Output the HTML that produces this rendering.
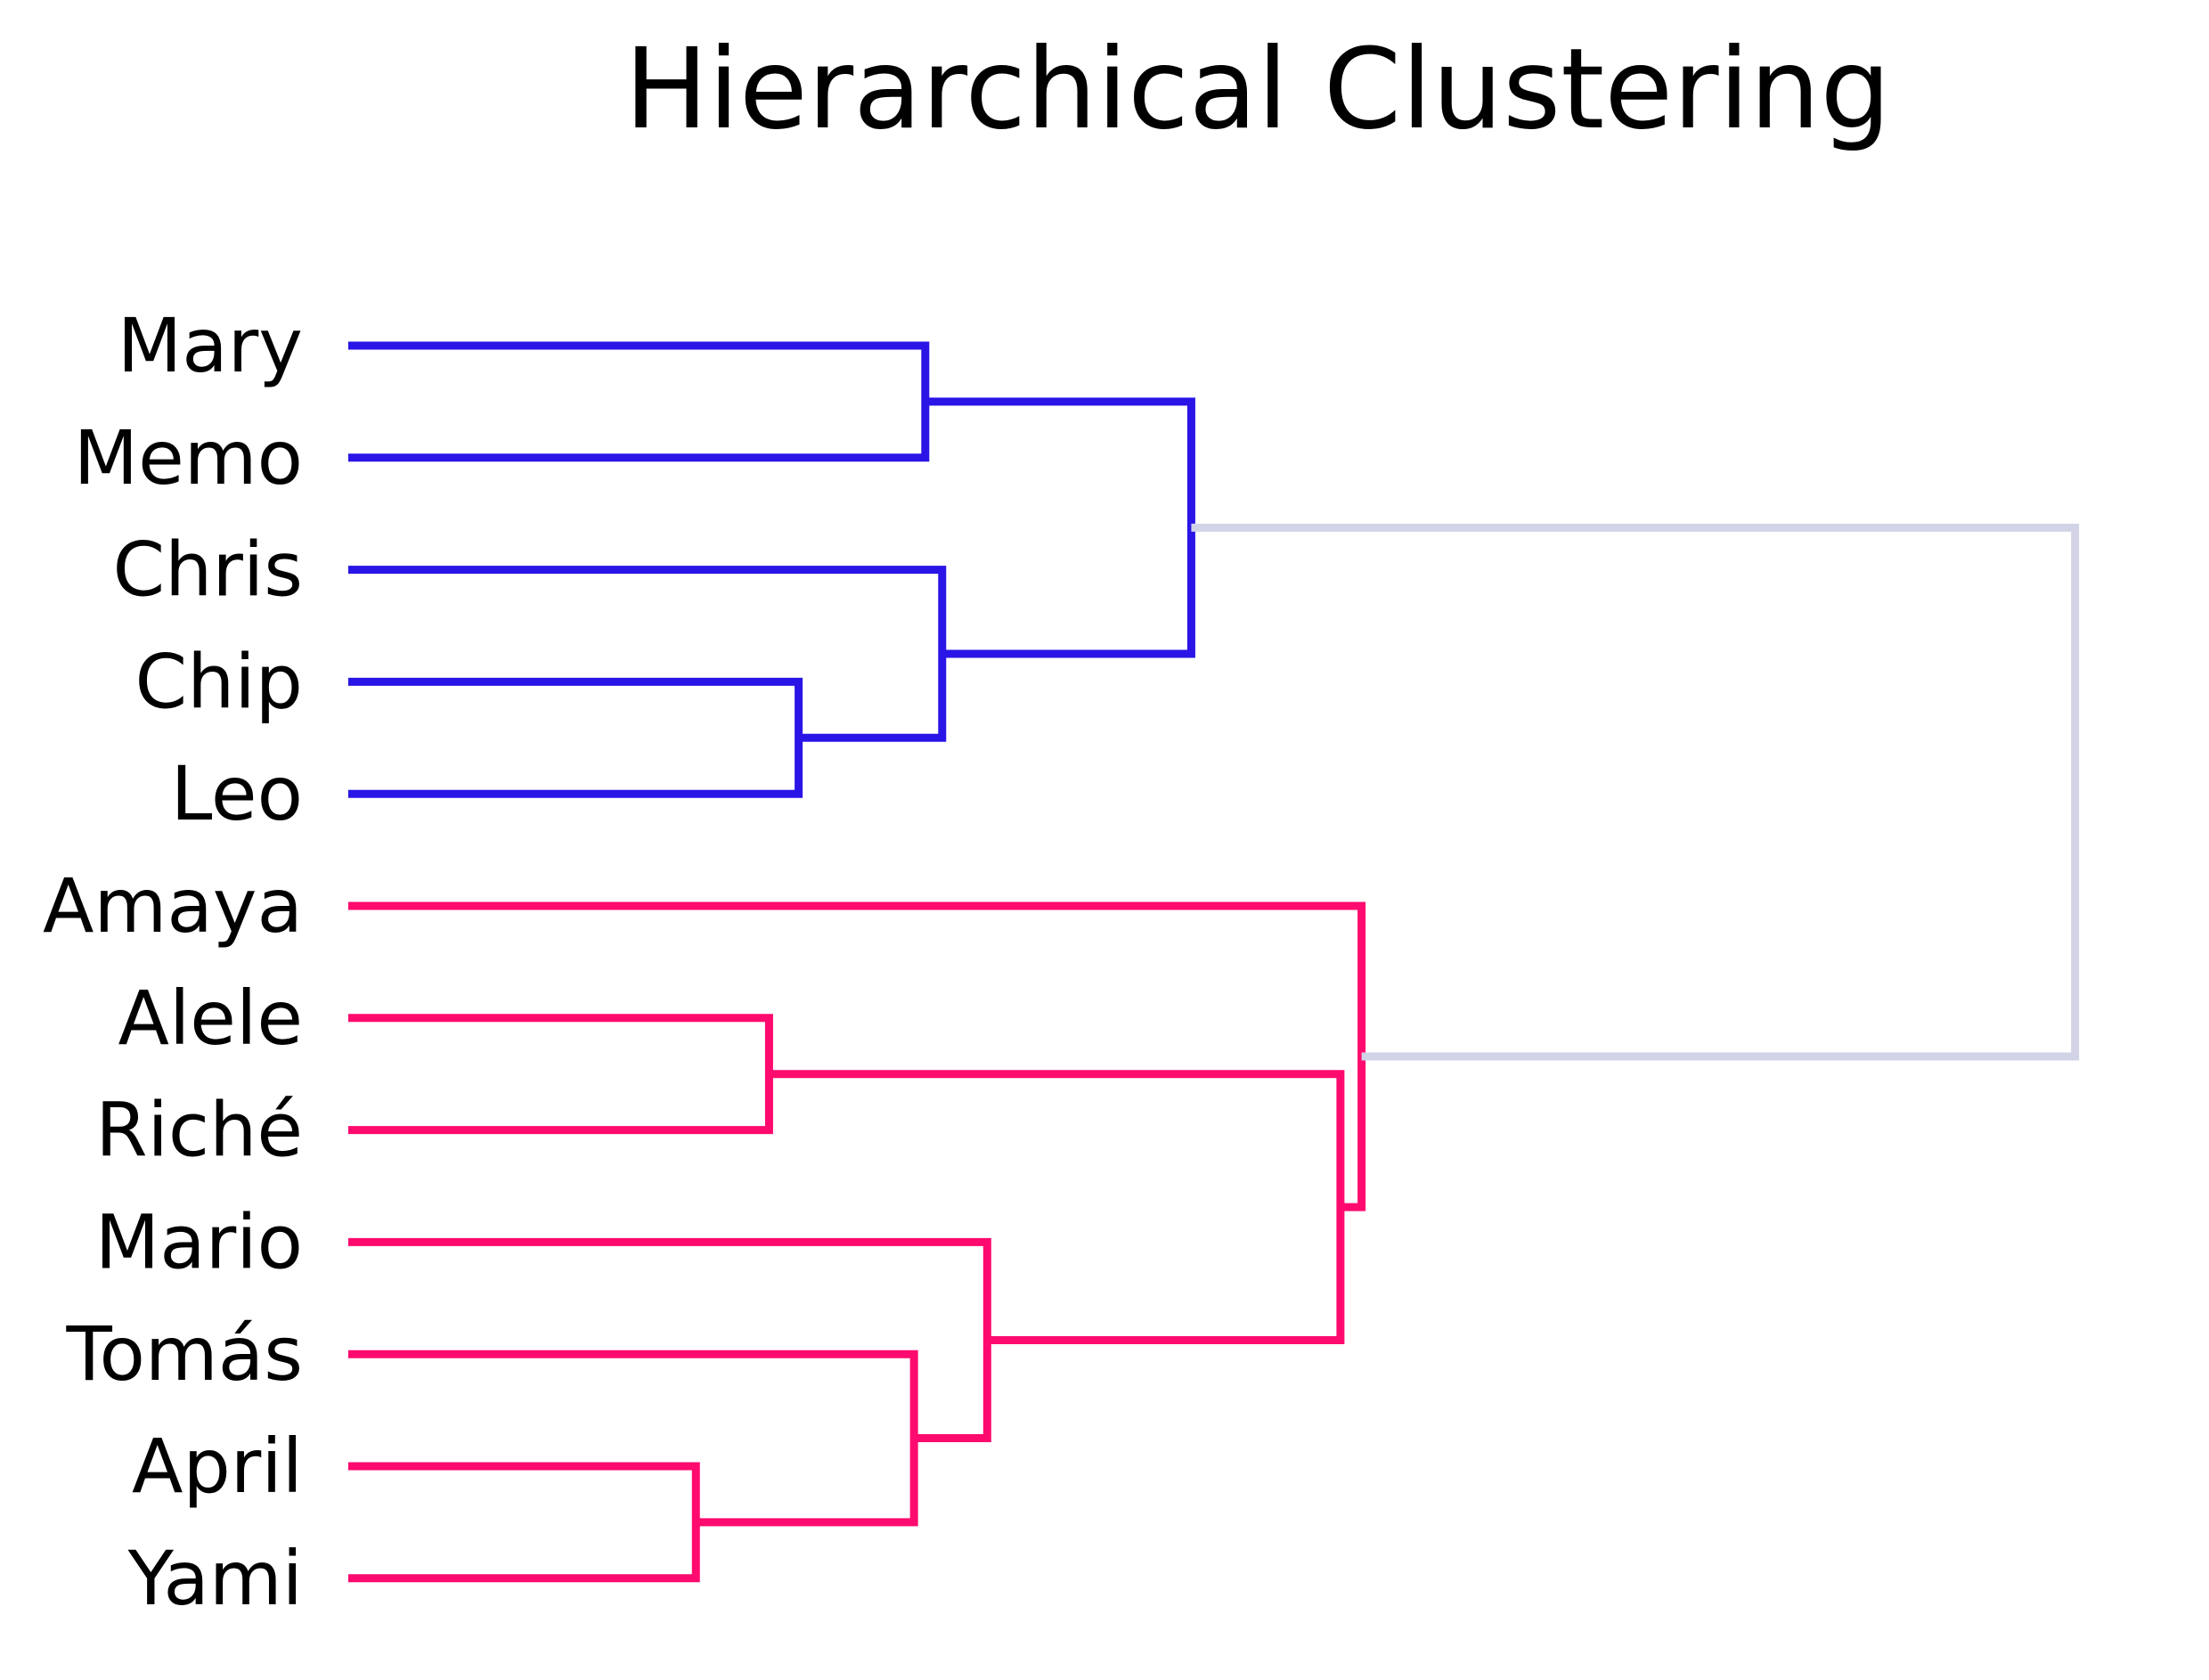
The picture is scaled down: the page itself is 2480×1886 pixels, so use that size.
<!DOCTYPE html>
<html><head><meta charset="utf-8"><style>
html,body{margin:0;padding:0;background:#fff;}
svg{display:block;}
text{font-family:"DejaVu Sans","Liberation Sans",sans-serif;fill:#000;}
</style></head><body>
<svg id="chart" width="2480" height="1886" viewBox="0 0 2480 1886">
<text x="1412" y="143" font-size="125" text-anchor="middle">Hierarchical Clustering</text>
<g id="links"></g><g id="labels"></g>
</svg>
<script>
const leafNames = ["Mary","Memo","Chris","Chip","Leo","Amaya","Alele","Riché","Mario","Tomás","April","Yami"];
// merges: [childA, childB, distance]; ids >= 12 refer to earlier merges (12 = first merge)
const mergeA = [0, 3, 2, 12, 10, 9, 8, 6, 19, 5, 15];
const mergeB = [1, 4, 13, 14, 11, 16, 17, 7, 18, 20, 21];
const mergeDist = [4.10, 3.20, 4.22, 5.99, 2.47, 4.02, 4.54, 2.99, 7.05, 7.20, 12.27];
const mergeCluster = ["blue","blue","blue","blue","pink","pink","pink","pink","pink","pink","root"];
const colors = {blue:"#2a14e6", pink:"#ff0a6e", root:"#d3d3e8"};

const X0 = 391, KX = 158, Y0 = 388, DY = 125.8;
const xScale = d => X0 + d * KX;
const yScale = i => Y0 + i * DY;
const NS = "http://www.w3.org/2000/svg";
const linksG = document.getElementById("links");
const labelsG = document.getElementById("labels");

const nodeY = [], nodeD = [];
leafNames.forEach((n, i) => {
  nodeY[i] = yScale(i); nodeD[i] = 0;
  const t = document.createElementNS(NS, "text");
  t.setAttribute("x", 340); t.setAttribute("y", yScale(i) + 29);
  t.setAttribute("font-size", "84"); t.setAttribute("text-anchor", "end");
  t.textContent = n;
  
  
  labelsG.appendChild(t);
});
mergeA.forEach((a, k) => {
  const b = mergeB[k], d = mergeDist[k], id = leafNames.length + k;
  const xm = xScale(d), ya = nodeY[a], yb = nodeY[b];
  const pts = `${xScale(nodeD[a])},${ya} ${xm},${ya} ${xm},${yb} ${xScale(nodeD[b])},${yb}`;
  const p = document.createElementNS(NS, "polyline");
  p.setAttribute("points", pts);
  p.setAttribute("fill", "none");
  p.setAttribute("stroke", colors[mergeCluster[k]]);
  p.setAttribute("stroke-width", "9");
  
  
  linksG.appendChild(p);
  nodeY[id] = (ya + yb) / 2; nodeD[id] = d;
});
</script>
</body></html>
